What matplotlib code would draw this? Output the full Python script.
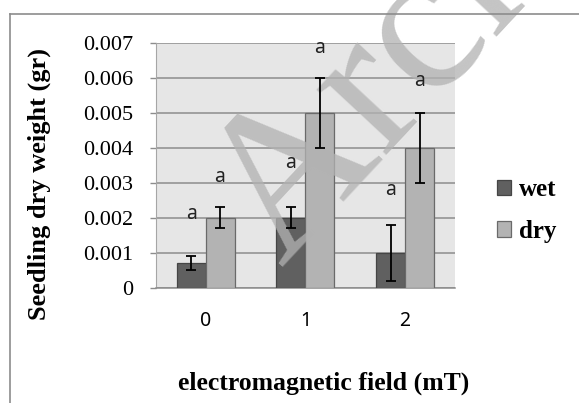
import numpy as np
import matplotlib
matplotlib.use("Agg")
from matplotlib import pyplot as plt
from matplotlib.lines import Line2D

# data
fields = ['0', '1', '2']
wet = [0.0007, 0.002, 0.001]
wet_err = [0.0002, 0.0003, 0.0008]
dry = [0.002, 0.005, 0.004]
dry_err = [0.0003, 0.001, 0.001]
# significance letters and the height they sit at
wet_letters = ['a', 'a', 'a']
wet_letter_y = [0.00195, 0.00341, 0.00265]
dry_letters = ['a', 'a', 'a']
dry_letter_y = [0.00303, 0.0067, 0.00577]
yticks = [0, 0.001, 0.002, 0.003, 0.004, 0.005, 0.006, 0.007]
ytick_labels = ['0', '0.001', '0.002', '0.003', '0.004', '0.005', '0.006', '0.007']

W, H = 579, 403
fig = plt.figure(figsize=(W / 100, H / 100), dpi=100)
fig.patch.set_facecolor('white')

# outer chart frame (only left and top edges are inside the picture)
fig.add_artist(Line2D([10 / W, 10 / W], [0, 1 - 14 / H], transform=fig.transFigure, color='#8c8c8c', lw=1.2))
fig.add_artist(Line2D([10 / W, 1], [1 - 14 / H, 1 - 14 / H], transform=fig.transFigure, color='#8c8c8c', lw=1.2))

ax = fig.add_axes([155.7 / W, 1 - 287.7 / H, 299.3 / W, 245 / H])
ax.set_facecolor('#e6e6e6')

x = np.arange(len(fields))
bw = 0.29
err_kw = dict(ecolor='black', elinewidth=1.3, capsize=3.8, capthick=1.3, zorder=6)
ax.bar(x - bw / 2, wet, bw, yerr=wet_err, color='#606060', edgecolor='#454545', lw=0.9,
       error_kw=err_kw, label='wet', zorder=3)
ax.bar(x + bw / 2, dry, bw, yerr=dry_err, color='#b3b3b3', edgecolor='#6a6a6a', lw=0.9,
       error_kw=err_kw, label='dry', zorder=3)

for i in range(len(fields)):
    ax.text(x[i] - bw / 2, wet_letter_y[i], wet_letters[i], ha='center', va='baseline',
            fontsize=14, family='Noto Sans', color='#222222', zorder=7)
    ax.text(x[i] + bw / 2, dry_letter_y[i], dry_letters[i], ha='center', va='baseline',
            fontsize=14, family='Noto Sans', color='#222222', zorder=7)

ax.set_xlim(-0.5, 2.5)
ax.set_ylim(0, 0.007)
ax.set_yticks(yticks)
ax.set_yticklabels(ytick_labels, family='Liberation Serif', fontsize=16)
ax.set_xticks(x)
ax.set_xticklabels(fields, family='Noto Sans', fontsize=14)
ax.tick_params(axis='y', length=4.3, width=1, color='#8c8c8c', pad=12)
ax.tick_params(axis='x', length=0, pad=17)
ax.yaxis.grid(True, color='#8c8c8c', lw=1.1, zorder=1)
ax.set_axisbelow(True)
for s in ['top', 'right']:
    ax.spines[s].set_visible(False)
ax.spines['left'].set_color('#a6a6a6')
ax.spines['bottom'].set_color('#8c8c8c')
ax.spines['bottom'].set_linewidth(1.1)

ax.set_xlabel('electromagnetic field (mT)', family='Liberation Serif', fontweight='bold',
              fontsize=18.5, va='center')
ax.xaxis.set_label_coords(0.56, -0.389)
ax.set_ylabel('Seedling dry weight (gr)', family='Liberation Serif', fontweight='bold',
              fontsize=19, va='center')
ax.yaxis.set_label_coords(-0.39, 0.423)

leg = fig.legend(loc='center left', bbox_to_anchor=(497 / W, 1 - 210.5 / H), frameon=False,
                 prop={'family': 'Liberation Serif', 'weight': 'bold', 'size': 18},
                 handlelength=0.56, handleheight=0.56, handletextpad=0.3,
                 labelspacing=0.75, borderpad=0, borderaxespad=0)

# faint watermark: above the bars, below the error bars and letters
ax.text(282 / W, 1 - 268 / H, 'Archive of SID', transform=fig.transFigure,
        family='Liberation Serif', fontsize=150, color='#b2b2b2', alpha=0.76,
        rotation=47, rotation_mode='anchor', ha='left', va='baseline',
        zorder=5, clip_on=False)

fig.savefig('out.png', dpi=100)
